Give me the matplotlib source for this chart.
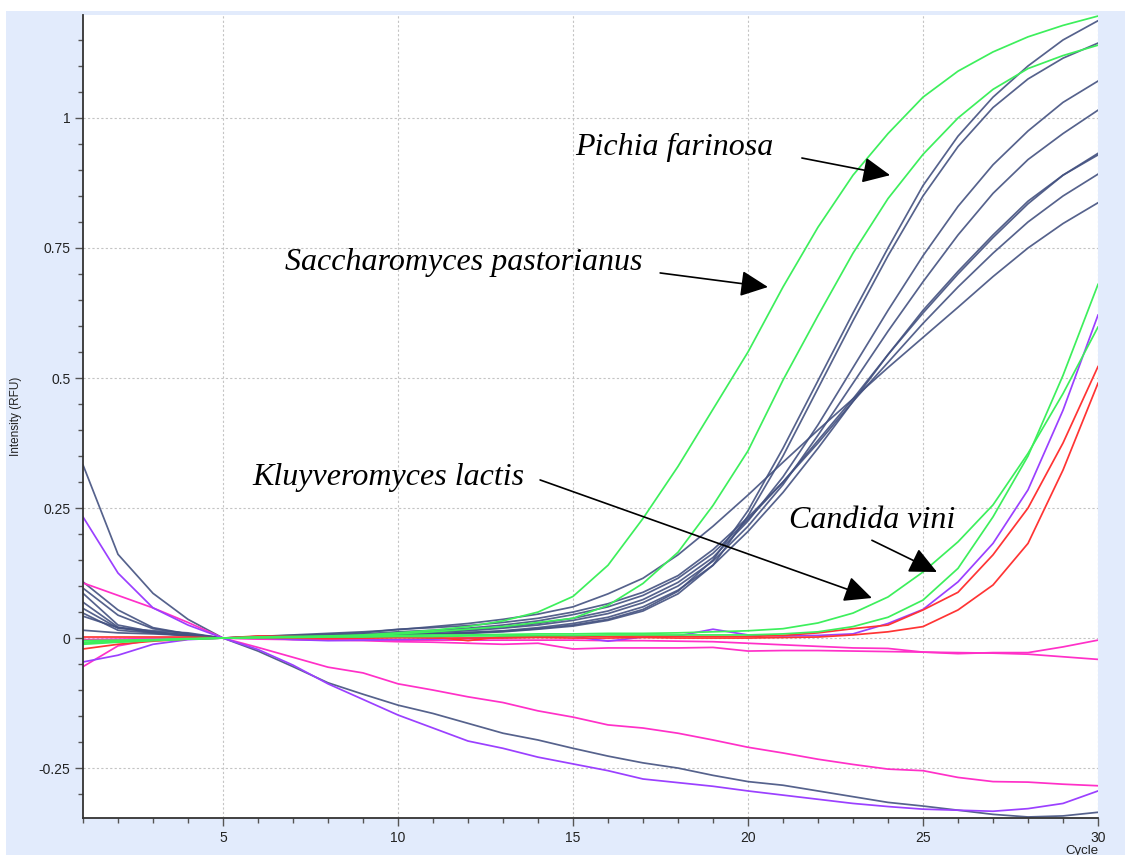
import matplotlib
matplotlib.use("Agg")
import matplotlib.pyplot as plt
from matplotlib.patches import Rectangle
from matplotlib.ticker import MultipleLocator, FixedLocator

# ---- data: fluorescence (RFU) per cycle ----
cycles = list(range(1, 31))

navy_amp = [
    [0.108, 0.054, 0.020, 0.008, 0.0, 0.001, 0.002, 0.003, 0.004, 0.006, 0.008, 0.010, 0.013, 0.018, 0.025,
     0.036, 0.055, 0.090, 0.150, 0.245, 0.365, 0.495, 0.625, 0.750, 0.870, 0.965, 1.040, 1.100, 1.150, 1.187],
    [0.096, 0.044, 0.018, 0.008, 0.0, 0.000, 0.001, 0.002, 0.003, 0.005, 0.007, 0.009, 0.012, 0.017, 0.023,
     0.034, 0.052, 0.085, 0.140, 0.235, 0.350, 0.480, 0.610, 0.735, 0.850, 0.945, 1.020, 1.075, 1.115, 1.144],
    [0.086, 0.025, 0.012, 0.006, 0.0, 0.002, 0.003, 0.004, 0.006, 0.009, 0.012, 0.016, 0.021, 0.028, 0.038,
     0.052, 0.074, 0.107, 0.155, 0.225, 0.310, 0.410, 0.520, 0.630, 0.735, 0.830, 0.910, 0.975, 1.030, 1.071],
    [0.069, 0.021, 0.010, 0.005, 0.0, 0.001, 0.002, 0.003, 0.005, 0.008, 0.011, 0.014, 0.019, 0.025, 0.034,
     0.047, 0.068, 0.100, 0.148, 0.215, 0.295, 0.390, 0.490, 0.590, 0.685, 0.775, 0.855, 0.920, 0.970, 1.015],
    [0.057, 0.019, 0.012, 0.006, 0.0, 0.002, 0.003, 0.005, 0.008, 0.012, 0.015, 0.019, 0.025, 0.033, 0.045,
     0.060, 0.082, 0.115, 0.163, 0.228, 0.300, 0.380, 0.460, 0.545, 0.625, 0.700, 0.770, 0.835, 0.890, 0.932],
    [0.048, 0.015, 0.010, 0.004, 0.0, 0.000, 0.001, 0.002, 0.004, 0.006, 0.008, 0.011, 0.014, 0.020, 0.028,
     0.040, 0.060, 0.092, 0.140, 0.205, 0.280, 0.365, 0.455, 0.545, 0.630, 0.705, 0.775, 0.840, 0.890, 0.929],
    [0.042, 0.020, 0.014, 0.010, 0.0, 0.003, 0.005, 0.007, 0.010, 0.017, 0.020, 0.024, 0.030, 0.038, 0.050,
     0.066, 0.088, 0.120, 0.170, 0.232, 0.300, 0.375, 0.455, 0.530, 0.605, 0.675, 0.740, 0.800, 0.850, 0.892],
    [0.015, 0.010, 0.008, 0.005, 0.0, 0.003, 0.006, 0.009, 0.012, 0.016, 0.022, 0.028, 0.036, 0.046, 0.060,
     0.085, 0.115, 0.160, 0.215, 0.275, 0.338, 0.400, 0.460, 0.520, 0.578, 0.636, 0.695, 0.750, 0.797, 0.837],
]
navy_drop = [0.333, 0.161, 0.086, 0.036, 0.0, -0.025, -0.055, -0.086, -0.108, -0.129, -0.145, -0.164, -0.183,
             -0.196, -0.212, -0.227, -0.240, -0.250, -0.264, -0.276, -0.283, -0.294, -0.305, -0.316, -0.323,
             -0.331, -0.339, -0.344, -0.342, -0.335]

purple_drop = [0.233, 0.125, 0.058, 0.025, 0.0, -0.022, -0.052, -0.088, -0.118, -0.148, -0.173, -0.198, -0.212,
               -0.229, -0.242, -0.255, -0.271, -0.278, -0.285, -0.294, -0.302, -0.310, -0.318, -0.324, -0.329,
               -0.331, -0.333, -0.328, -0.318, -0.294]
purple_amp = [-0.046, -0.033, -0.012, -0.003, 0.0, 0.001, -0.003, -0.005, -0.004, -0.003, -0.002, 0.000, 0.001,
              0.002, 0.003, -0.006, 0.002, 0.004, 0.017, 0.006, 0.004, 0.005, 0.008, 0.028, 0.055, 0.108, 0.182,
              0.285, 0.438, 0.621]

magenta_drop = [0.106, 0.082, 0.058, 0.030, 0.0, -0.018, -0.037, -0.056, -0.067, -0.088, -0.100, -0.113, -0.124,
                -0.140, -0.152, -0.167, -0.173, -0.183, -0.196, -0.210, -0.221, -0.233, -0.243, -0.252, -0.255,
                -0.268, -0.276, -0.277, -0.281, -0.284]
magenta_flat = [
    [-0.003, -0.002, -0.001, 0.000, 0.0, -0.001, -0.002, -0.003, -0.003, -0.004, -0.004, -0.004, -0.004, -0.004,
     -0.004, -0.005, -0.005, -0.006, -0.007, -0.010, -0.013, -0.016, -0.019, -0.020, -0.027, -0.030, -0.028,
     -0.028, -0.017, -0.004],
    [-0.055, -0.015, -0.003, -0.001, 0.0, -0.002, -0.003, -0.004, -0.005, -0.007, -0.008, -0.010, -0.012, -0.010,
     -0.021, -0.019, -0.019, -0.019, -0.018, -0.025, -0.024, -0.024, -0.025, -0.026, -0.027, -0.028, -0.029,
     -0.031, -0.036, -0.041],
]

red_amp = [
    [-0.021, -0.012, -0.006, -0.002, 0.0, 0.004, 0.003, 0.002, 0.000, 0.001, 0.002, -0.005, 0.003, 0.003, 0.004,
     0.003, 0.004, 0.003, 0.003, 0.003, 0.005, 0.010, 0.018, 0.025, 0.054, 0.088, 0.160, 0.250, 0.375, 0.522],
    [0.002, 0.002, 0.002, 0.002, 0.0, 0.001, 0.000, -0.001, 0.000, 0.001, 0.000, 0.000, 0.000, 0.001, 0.000,
     0.000, 0.001, 0.000, 0.000, 0.000, 0.001, 0.002, 0.006, 0.012, 0.022, 0.054, 0.102, 0.182, 0.323, 0.490],
]

green_amp = [
    [-0.005, -0.004, -0.003, -0.001, 0.0, 0.002, 0.003, 0.004, 0.006, 0.010, 0.015, 0.022, 0.033, 0.050, 0.080,
     0.140, 0.230, 0.330, 0.440, 0.550, 0.675, 0.790, 0.890, 0.970, 1.040, 1.090, 1.127, 1.156, 1.178, 1.196],
    [-0.010, -0.007, -0.004, -0.002, 0.0, 0.001, 0.002, 0.003, 0.005, 0.008, 0.012, 0.017, 0.022, 0.030, 0.038,
     0.063, 0.105, 0.165, 0.255, 0.360, 0.496, 0.620, 0.740, 0.845, 0.930, 1.000, 1.055, 1.095, 1.120, 1.140],
    [-0.008, -0.006, -0.004, -0.002, 0.0, 0.001, 0.002, 0.003, 0.004, 0.005, 0.006, 0.006, 0.007, 0.008, 0.008,
     0.009, 0.009, 0.010, 0.012, 0.014, 0.018, 0.029, 0.048, 0.079, 0.127, 0.185, 0.256, 0.355, 0.470, 0.598],
    [-0.012, -0.008, -0.005, -0.002, 0.0, 0.001, 0.001, 0.002, 0.002, 0.003, 0.003, 0.004, 0.004, 0.005, 0.005,
     0.006, 0.006, 0.006, 0.006, 0.006, 0.008, 0.012, 0.022, 0.040, 0.073, 0.134, 0.233, 0.350, 0.505, 0.680],
]

y_ticks = [-0.25, 0, 0.25, 0.5, 0.75, 1]
y_tick_labels = ["-0.25", "0", "0.25", "0.5", "0.75", "1"]
x_ticks = [5, 10, 15, 20, 25, 30]

species_labels = [
    ("Pichia farinosa", (15.06, 0.929), (21.54, 0.923), (24.06, 0.890)),
    ("Saccharomyces pastorianus", (6.77, 0.708), (17.49, 0.702), (20.57, 0.675)),
    ("Kluyveromyces lactis", (5.83, 0.294), (14.06, 0.304), (23.54, 0.077)),
    ("Candida vini", (21.17, 0.212), (23.54, 0.188), (25.40, 0.127)),
]

NAVY = "#435180"
GREEN = "#3def5c"
PURPLE = "#9b40ff"
MAGENTA = "#ff30c8"
RED = "#ff3434"

fig = plt.figure(figsize=(11.25, 8.55), dpi=100)
fig.patch.set_facecolor("white")
fig.patches.append(Rectangle((6 / 1125, 0), 1, (855 - 11) / 855, transform=fig.transFigure,
                             facecolor="#e2ebfc", edgecolor="none", zorder=-10))

ax = fig.add_axes([83 / 1125, 37 / 855, (1098 - 83) / 1125, (818 - 15) / 855])
ax.set_facecolor("white")

lw = 1.25
for ys in navy_amp:
    ax.plot(cycles, ys, color=NAVY, lw=lw, alpha=0.9)
ax.plot(cycles, navy_drop, color=NAVY, lw=lw, alpha=0.9)
ax.plot(cycles, magenta_drop, color=MAGENTA, lw=lw)
for ys in magenta_flat:
    ax.plot(cycles, ys, color=MAGENTA, lw=lw)
ax.plot(cycles, purple_drop, color=PURPLE, lw=lw)
ax.plot(cycles, purple_amp, color=PURPLE, lw=lw)
for ys in red_amp:
    ax.plot(cycles, ys, color=RED, lw=lw)
for ys in green_amp:
    ax.plot(cycles, ys, color=GREEN, lw=lw)

ax.set_xlim(1, 30)
ax.set_ylim(-0.346, 1.198)

ax.xaxis.set_major_locator(FixedLocator(x_ticks))
ax.xaxis.set_minor_locator(MultipleLocator(1))
ax.yaxis.set_major_locator(FixedLocator(y_ticks))
ax.set_yticklabels(y_tick_labels)
ax.yaxis.set_minor_locator(MultipleLocator(0.05))

ax.grid(True, which="major", color="#c4c4c4", lw=0.8, linestyle=(0, (2, 2)))
ax.set_axisbelow(True)

for side in ("top", "right"):
    ax.spines[side].set_visible(False)
for side in ("left", "bottom"):
    ax.spines[side].set_color("#333333")
    ax.spines[side].set_linewidth(1.3)

ax.tick_params(which="major", length=6, width=1, color="#555555", labelcolor="#222222", pad=3)
ax.tick_params(which="minor", length=3.5, width=1, color="#555555")
for lab in ax.get_xticklabels() + ax.get_yticklabels():
    lab.set_fontfamily("Liberation Sans")
    lab.set_fontsize(10)

ax.set_ylabel("Intensity (RFU)", fontsize=8.5, family="Liberation Sans", color="#222222", labelpad=12)
fig.text(1098 / 1125, (855 - 845) / 855, "Cycle", ha="right", va="top",
         fontsize=9.5, family="Liberation Sans", color="#222222")

for text, tpos, start, tip in species_labels:
    ax.text(tpos[0], tpos[1], text, fontsize=23, family="Liberation Serif", style="italic",
            ha="left", va="baseline", color="black", zorder=5)
    ax.annotate("", xy=tip, xytext=start,
                arrowprops=dict(arrowstyle="-|>,head_length=0.85,head_width=0.4", color="black",
                                lw=1.2, shrinkA=0, shrinkB=0, mutation_scale=20), zorder=5)

fig.savefig("out.png", dpi=100)
